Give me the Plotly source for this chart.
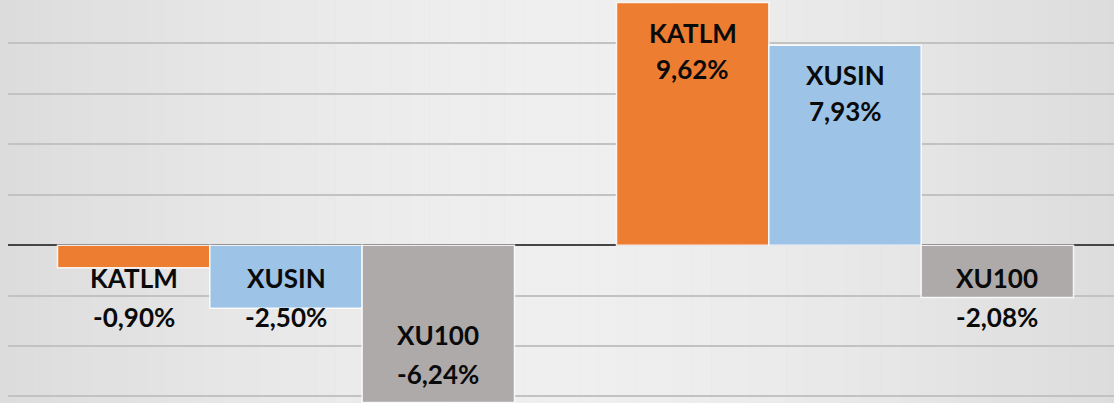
import plotly.graph_objects as go

# ---- data ----
groups = ["Dönem 1", "Dönem 2"]
series_names = ["KATLM", "XUSIN", "XU100"]
katlm = [-0.90, 9.62]
xusin = [-2.50, 7.93]
xu100 = [-6.24, -2.08]
values = [katlm, xusin, xu100]

# ---- style ----
colors = ["#ED7D31", "#9DC3E6", "#AEAAAA"]
W, H = 1114, 403
ML = 8
bargap = 0.1825
yrange = [-6.26, 9.72]
xrange_ = [-0.4973, 1.4812]
ppu = H / (yrange[1] - yrange[0])  # pixels per y unit
font_family = "Lato, 'Open Sans', sans-serif"
fsize = 26

fig = go.Figure()
for name, vals, col in zip(series_names, values, colors):
    fig.add_trace(go.Bar(
        x=list(range(len(groups))), y=vals, name=name,
        marker=dict(color=col, line=dict(color="rgba(255,255,255,0.85)", width=1.5)),
        hoverinfo="skip",
    ))

# background gradient (light centre, darker edges)
shapes = []
nstrips = 60
for s in range(nstrips):
    t = (s + 0.5) / nstrips
    d = abs(t - 0.5) * 2  # 0 center, 1 edges
    g = int(round(239 - 20 * d ** 1.6))
    shapes.append(dict(type="rect", xref="paper", yref="paper",
                       x0=-0.01 + s * 1.02 / nstrips, x1=-0.01 + (s + 1) * 1.02 / nstrips,
                       y0=0, y1=1, fillcolor=f"rgb({g},{g},{g})", line=dict(width=0),
                       layer="below"))

annotations = []
bw = (1 - bargap) / len(series_names)
for k, (name, vals) in enumerate(zip(series_names, values)):
    for i, v in enumerate(vals):
        x = i + (k - (len(series_names) - 1) / 2) * bw
        label = f"{v:.2f}".replace(".", ",") + "%"
        if v > 0:
            name_y, name_shift = v, -30
            val_y, val_shift = v, -66
        else:
            val_y = min(v + 29 / ppu, -72 / ppu)
            val_shift = 0
            name_y, name_shift = val_y, 39
        for txt, yy, sh in ((name, name_y, name_shift), (label, val_y, val_shift)):
            annotations.append(dict(
                x=x, y=yy, xref="x", yref="y", yshift=sh, text=f"<b>{txt}</b>",
                showarrow=False, xanchor="center", yanchor="middle",
                font=dict(family=font_family, size=fsize, color="#0a0a0a"),
            ))

fig.update_layout(
    width=W, height=H,
    margin=dict(l=ML, r=0, t=0, b=0),
    paper_bgcolor="#e2e2e2", plot_bgcolor="rgba(0,0,0,0)",
    barmode="group", bargap=bargap, bargroupgap=0,
    showlegend=False,
    shapes=shapes, annotations=annotations,
    xaxis=dict(range=xrange_, showticklabels=False, showgrid=False, zeroline=False,
               showline=False, ticks=""),
    yaxis=dict(range=yrange, dtick=2, showticklabels=False, showgrid=True,
               gridcolor="#c2c2c2", gridwidth=2, zeroline=True, zerolinecolor="#454545",
               zerolinewidth=2, showline=False, ticks=""),
)

fig.write_html("out.html",
               config={"displayModeBar": False, "staticPlot": True},
               post_script="document.body.style.margin='0';document.body.style.padding='0';document.body.style.overflow='hidden';")
